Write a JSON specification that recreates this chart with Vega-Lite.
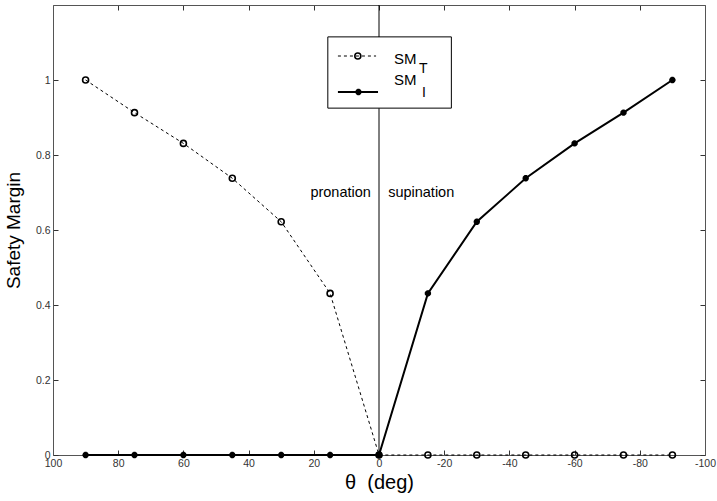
{
  "$schema": "https://vega.github.io/schema/vega-lite/v6.json",
  "width": 652,
  "height": 450,
  "autosize": {"type": "none"},
  "padding": {"left": 53, "top": 5, "right": 12, "bottom": 46},
  "background": "white",
  "config": {
    "view": {"stroke": null},
    "font": "Liberation Sans",
    "axis": {
      "grid": false,
      "domainColor": "#555555",
      "tickColor": "#333333",
      "labelColor": "#333333",
      "labelFont": "Liberation Sans",
      "labelFontSize": 10.5,
      "titleFont": "Liberation Sans",
      "titleFontWeight": "normal",
      "titleColor": "black",
      "tickSize": -5,
      "labelFlush": false
    }
  },
  "datasets": {
    "sm": [
      {"theta": 90, "value": 1.0, "series": "T"},
      {"theta": 75, "value": 0.913, "series": "T"},
      {"theta": 60, "value": 0.831, "series": "T"},
      {"theta": 45, "value": 0.738, "series": "T"},
      {"theta": 30, "value": 0.622, "series": "T"},
      {"theta": 15, "value": 0.431, "series": "T"},
      {"theta": 0, "value": 0.0, "series": "T"},
      {"theta": -15, "value": 0.0, "series": "T"},
      {"theta": -30, "value": 0.0, "series": "T"},
      {"theta": -45, "value": 0.0, "series": "T"},
      {"theta": -60, "value": 0.0, "series": "T"},
      {"theta": -75, "value": 0.0, "series": "T"},
      {"theta": -90, "value": 0.0, "series": "T"},
      {"theta": 90, "value": 0.0, "series": "I"},
      {"theta": 75, "value": 0.0, "series": "I"},
      {"theta": 60, "value": 0.0, "series": "I"},
      {"theta": 45, "value": 0.0, "series": "I"},
      {"theta": 30, "value": 0.0, "series": "I"},
      {"theta": 15, "value": 0.0, "series": "I"},
      {"theta": 0, "value": 0.0, "series": "I"},
      {"theta": -15, "value": 0.431, "series": "I"},
      {"theta": -30, "value": 0.622, "series": "I"},
      {"theta": -45, "value": 0.738, "series": "I"},
      {"theta": -60, "value": 0.831, "series": "I"},
      {"theta": -75, "value": 0.913, "series": "I"},
      {"theta": -90, "value": 1.0, "series": "I"}
    ],
    "one": [{}]
  },
  "layer": [
    {
      "data": {"name": "one"},
      "mark": {"type": "rule", "color": "black", "strokeWidth": 1},
      "encoding": {
        "x": {"datum": 0, "type": "quantitative", "scale": {"domain": [-100, 100], "reverse": true, "nice": false}, "axis": null}
      }
    },
    {
      "data": {"name": "sm"},
      "transform": [{"filter": "datum.series == 'T'"}],
      "mark": {"type": "line", "color": "black", "strokeWidth": 1, "strokeDash": [3, 3]},
      "encoding": {
        "x": {"field": "theta", "type": "quantitative", "axis": null},
        "y": {"field": "value", "type": "quantitative", "axis": null}
      }
    },
    {
      "data": {"name": "sm"},
      "transform": [{"filter": "datum.series == 'I'"}],
      "mark": {"type": "line", "color": "black", "strokeWidth": 2},
      "encoding": {
        "x": {
          "field": "theta",
          "type": "quantitative",
          "axis": {
            "orient": "bottom",
            "values": [100, 80, 60, 40, 20, 0, -20, -40, -60, -80, -100],
            "labelExpr": "toString(datum.value)",
            "labelPadding": 8,
            "title": "θ\u00a0\u00a0(deg)",
            "titleFontSize": 20,
            "titlePadding": 4
          }
        },
        "y": {
          "field": "value",
          "type": "quantitative",
          "scale": {"domain": [0, 1.2], "nice": false},
          "axis": {
            "orient": "left",
            "values": [0, 0.2, 0.4, 0.6, 0.8, 1],
            "labelExpr": "toString(datum.value)",
            "labelPadding": 8,
            "title": "Safety Margin",
            "titleFontSize": 19,
            "titlePadding": 12
          }
        }
      }
    },
    {
      "data": {"name": "sm"},
      "transform": [{"filter": "datum.series == 'T'"}],
      "mark": {"type": "point", "shape": "circle", "filled": false, "color": "black", "strokeWidth": 1.6, "size": 36, "opacity": 1},
      "encoding": {
        "x": {"field": "theta", "type": "quantitative", "axis": null},
        "y": {"field": "value", "type": "quantitative", "axis": null}
      }
    },
    {
      "data": {"name": "sm"},
      "transform": [{"filter": "datum.series == 'I'"}],
      "mark": {"type": "point", "shape": "M-1,0L1,0M0,-1L0,1M-0.7,-0.7L0.7,0.7M-0.7,0.7L0.7,-0.7", "filled": false, "color": "black", "strokeWidth": 2.2, "size": 40, "opacity": 1},
      "encoding": {
        "x": {"field": "theta", "type": "quantitative", "axis": null},
        "y": {"field": "value", "type": "quantitative", "axis": null}
      }
    },
    {
      "data": {"name": "one"},
      "mark": {"type": "rect", "fill": "white", "stroke": "black", "strokeWidth": 1},
      "encoding": {
        "x": {"datum": 15.7, "type": "quantitative", "axis": null},
        "x2": {"datum": -22.2},
        "y": {"datum": 1.115, "type": "quantitative", "axis": null},
        "y2": {"datum": 0.925}
      }
    },
    {
      "data": {"name": "one"},
      "mark": {"type": "rule", "color": "black", "strokeWidth": 1, "strokeDash": [3, 3]},
      "encoding": {
        "x": {"datum": 12.6, "type": "quantitative", "axis": null},
        "x2": {"datum": 0.9},
        "y": {"datum": 1.064, "type": "quantitative", "axis": null}
      }
    },
    {
      "data": {"name": "one"},
      "mark": {"type": "rule", "color": "black", "strokeWidth": 2},
      "encoding": {
        "x": {"datum": 12.6, "type": "quantitative", "axis": null},
        "x2": {"datum": 0.3},
        "y": {"datum": 0.968, "type": "quantitative", "axis": null}
      }
    },
    {
      "data": {"name": "one"},
      "mark": {"type": "point", "shape": "circle", "filled": false, "color": "black", "strokeWidth": 1.6, "size": 36, "opacity": 1},
      "encoding": {
        "x": {"datum": 6.5, "type": "quantitative", "axis": null},
        "y": {"datum": 1.064, "type": "quantitative", "axis": null}
      }
    },
    {
      "data": {"name": "one"},
      "mark": {"type": "point", "shape": "M-1,0L1,0M0,-1L0,1M-0.7,-0.7L0.7,0.7M-0.7,0.7L0.7,-0.7", "filled": false, "color": "black", "strokeWidth": 2.2, "size": 40, "opacity": 1},
      "encoding": {
        "x": {"datum": 6.3, "type": "quantitative", "axis": null},
        "y": {"datum": 0.968, "type": "quantitative", "axis": null}
      }
    },
    {
      "data": {"name": "one"},
      "mark": {"type": "text", "text": "SM", "fontSize": 15, "align": "left", "baseline": "alphabetic", "color": "black"},
      "encoding": {
        "x": {"datum": -4.6, "type": "quantitative", "axis": null},
        "y": {"datum": 1.043, "type": "quantitative", "axis": null}
      }
    },
    {
      "data": {"name": "one"},
      "mark": {"type": "text", "text": "T", "fontSize": 14, "align": "left", "baseline": "alphabetic", "color": "black"},
      "encoding": {
        "x": {"datum": -12.3, "type": "quantitative", "axis": null},
        "y": {"datum": 1.019, "type": "quantitative", "axis": null}
      }
    },
    {
      "data": {"name": "one"},
      "mark": {"type": "text", "text": "SM", "fontSize": 15, "align": "left", "baseline": "alphabetic", "color": "black"},
      "encoding": {
        "x": {"datum": -4.6, "type": "quantitative", "axis": null},
        "y": {"datum": 0.987, "type": "quantitative", "axis": null}
      }
    },
    {
      "data": {"name": "one"},
      "mark": {"type": "text", "text": "I", "fontSize": 14, "align": "left", "baseline": "alphabetic", "color": "black"},
      "encoding": {
        "x": {"datum": -13.2, "type": "quantitative", "axis": null},
        "y": {"datum": 0.955, "type": "quantitative", "axis": null}
      }
    },
    {
      "data": {"name": "one"},
      "mark": {"type": "text", "text": "pronation", "fontSize": 14.5, "align": "right", "baseline": "middle", "color": "black"},
      "encoding": {
        "x": {"datum": 2.5, "type": "quantitative", "axis": null},
        "y": {"datum": 0.699, "type": "quantitative", "axis": null}
      }
    },
    {
      "data": {"name": "one"},
      "mark": {"type": "text", "text": "supination", "fontSize": 14.5, "align": "left", "baseline": "middle", "color": "black"},
      "encoding": {
        "x": {
          "datum": -2.8,
          "type": "quantitative",
          "axis": {"orient": "top", "values": [100, 80, 60, 40, 20, 0, -20, -40, -60, -80, -100], "labels": false, "title": null}
        },
        "y": {
          "datum": 0.699,
          "type": "quantitative",
          "axis": {"orient": "right", "values": [0, 0.2, 0.4, 0.6, 0.8, 1], "labels": false, "title": null}
        }
      }
    }
  ],
  "resolve": {"axis": {"x": "independent", "y": "independent"}}
}
